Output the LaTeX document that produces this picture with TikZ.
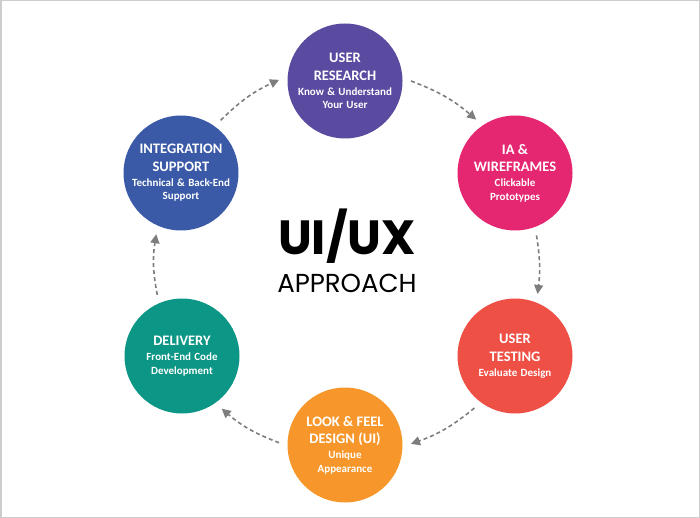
\documentclass[tikz,border=0pt]{standalone}
\usepackage{fontspec}
\usetikzlibrary{arrows.meta}
\newfontfamily\stagefont{Carlito}
\newfontfamily\titlefont{Poppins}
\definecolor{cur}{RGB}{90,74,160}
\definecolor{cia}{RGB}{229,38,112}
\definecolor{cut}{RGB}{239,80,70}
\definecolor{clf}{RGB}{247,151,43}
\definecolor{cdel}{RGB}{12,150,134}
\definecolor{cint}{RGB}{58,90,167}
\definecolor{arrowgray}{RGB}{125,125,125}
\definecolor{framegray}{RGB}{205,205,205}
\newcommand\stagetext[2]{{\fontsize{14.5}{17.5}\selectfont\bfseries #1\par}\vspace{1.5pt}{\fontsize{11}{13.5}\selectfont\bfseries #2\par}}
\tikzset{
  stage/.style={circle, minimum size=115pt, inner sep=0pt, outer sep=8.5pt, draw=none},
  stagelabel/.style={text=white, align=center, text width=120pt, inner sep=0pt, font=\stagefont},
  conn/.style={draw=arrowgray, line width=1.6pt, dash pattern=on 4pt off 3pt, -{Triangle[length=9pt,width=9pt]}},
}
\begin{document}
\begin{tikzpicture}[x=1pt,y=-1pt]
\useasboundingbox (0,0) rectangle (700,518);
\draw[framegray, line width=1.5pt] (0.75,0.75) rectangle (699.25,517.25);

\node[stage, fill=cur]  (ur)  at (345,81)  {};
\node[stage, fill=cia]  (ia)  at (515,173) {};
\node[stage, fill=cut]  (ut)  at (515,356) {};
\node[stage, fill=clf]  (lf)  at (345,445) {};
\node[stage, fill=cdel] (del) at (182,356) {};
\node[stage, fill=cint] (int) at (181,173) {};

\node[stagelabel] (urt)  at (ur)  {\stagetext{USER\\RESEARCH}{Know \& Understand\\Your User}};
\node[stagelabel] (iat)  at (ia)  {\stagetext{IA \&\\WIREFRAMES}{Clickable\\Prototypes}};
\node[stagelabel] (utt)  at (ut)  {\stagetext{USER\\TESTING}{Evaluate Design}};
\node[stagelabel] (lft)  at (lf)  {\stagetext{LOOK \& FEEL\\DESIGN (UI)}{Unique\\Appearance}};
\node[stagelabel] (delt) at (del) {\stagetext{DELIVERY}{Front-End Code\\Development}};
\node[stagelabel] (intt) at (int) {\stagetext{INTEGRATION\\SUPPORT}{Technical \& Back-End\\Support}};

\node[font=\titlefont\bfseries\fontsize{48}{48}\selectfont, inner sep=0pt] (t1) at (347,236) {UI/UX};
\node[font=\titlefont\fontsize{26}{26}\selectfont, inner sep=0pt] (t2) at (347,283) {APPROACH};

\draw[conn] (ur.0)    to[bend left=10] (ia.126);
\draw[conn] (ia.-71)  to[bend left=8]  (ut.70);
\draw[conn] (ut.-128) to[bend left=10] (lf.1);
\draw[conn] (lf.178)  to[bend left=10] (del.-53);
\draw[conn] (del.112) to[bend left=10] (int.-112);
\draw[conn] (int.53)  to[bend left=10] (ur.179);
\end{tikzpicture}
\end{document}
